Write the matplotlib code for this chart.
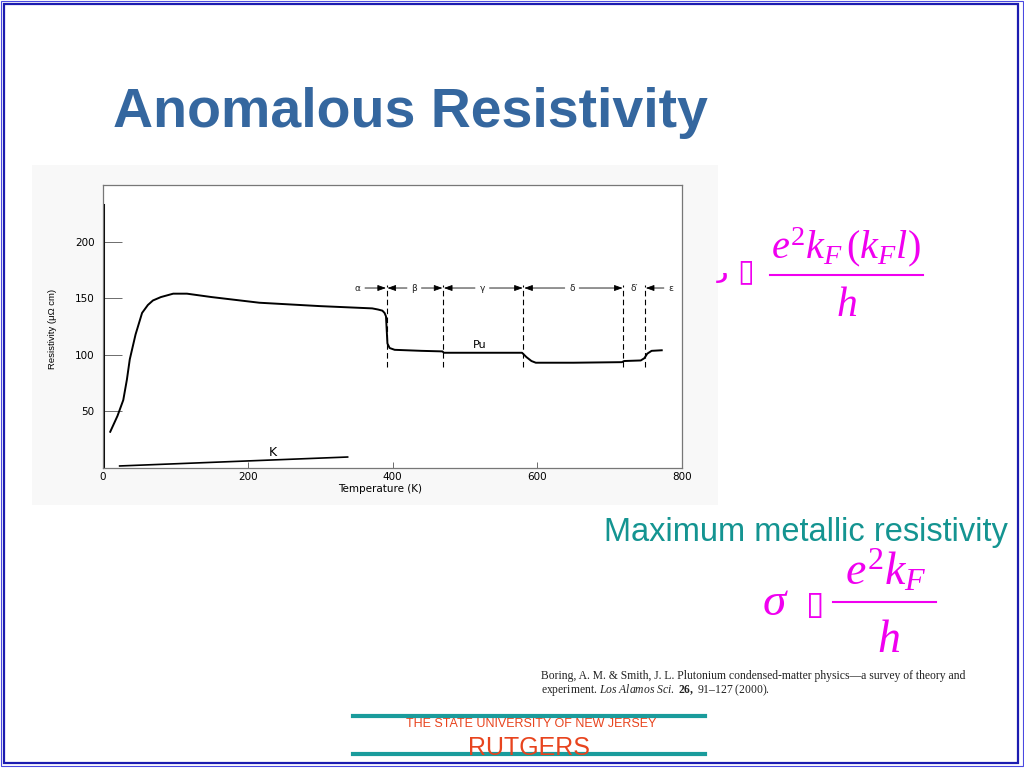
import matplotlib
matplotlib.use('Agg')
import matplotlib.pyplot as plt
from matplotlib.patches import Rectangle
from matplotlib.lines import Line2D

# Daten: Widerstand von Pu und K
pu_temp = [10, 20, 28, 33, 37, 45, 54, 62, 69, 80, 97, 116, 150, 216, 300, 372, 380, 386,
           389, 391, 392, 393, 396, 403, 440, 469, 471, 520, 579, 585, 592, 598, 650, 717,
           720, 743, 748, 752, 758, 772]
pu_rho = [32, 46, 60, 78, 96, 118, 137, 144, 148, 151, 154, 154, 151, 146, 143, 141, 140,
          139, 137, 134, 122, 110, 106, 104.4, 103.5, 103, 101.8, 101.8, 101.8, 98, 94.5,
          93, 93, 93.5, 94.5, 95, 97, 101, 103.5, 104]
k_temp = [23, 338]
k_rho = [1.8, 9.7]

# Phasengrenzen und Beschriftungen
phase_bounds = [392, 470, 581, 719, 749]
phase_names = ['\u03b1', '\u03b2', '\u03b3', '\u03b4', '\u03b4\u2032', '\u03b5']
phase_label_x = [352, 430, 524, 648, 734, 785]

x_ticks = [0, 200, 400, 600, 800]
y_ticks = [50, 100, 150, 200]

W, H = 1024, 768
SANS = 'Liberation Sans'

plt.rcParams['mathtext.fontset'] = 'custom'
plt.rcParams['mathtext.rm'] = 'Liberation Serif'
plt.rcParams['mathtext.it'] = 'Liberation Serif:italic'
plt.rcParams['mathtext.bf'] = 'Liberation Serif:bold'


def fx(x):
    return x / W


def fy(y):
    return 1 - y / H


fig = plt.figure(figsize=(W / 100, H / 100), dpi=100)
fig.patch.set_facecolor('white')

# Rahmen der Folie
fig.add_artist(Rectangle((fx(1), fy(766)), fx(1022), 765 / H, fill=False,
                         edgecolor='#4a4ae0', lw=0.8, transform=fig.transFigure))
fig.add_artist(Rectangle((fx(4), fy(763)), fx(1014), 759 / H, fill=False,
                         edgecolor='#1c1cb0', lw=1.6, transform=fig.transFigure))

# Titel
fig.text(fx(113), fy(127), 'Anomalous Resistivity', family=SANS, weight='bold',
         fontsize=40, color='#35679f', va='baseline', ha='left')

# Hintergrund des Diagrammbildes
fig.add_artist(Rectangle((fx(32), fy(505)), fx(686), 340 / H, facecolor='#f8f8f8',
                         edgecolor='none', transform=fig.transFigure, zorder=0))

ax = fig.add_axes([fx(103), fy(468), fx(682 - 103), (468 - 185) / H])
ax.set_facecolor('white')
ax.plot(pu_temp, pu_rho, color='black', lw=1.4)
ax.plot(k_temp, k_rho, color='black', lw=1.2)
ax.set_xlim(0, 800)
ax.set_ylim(0, 250)

for b in phase_bounds:
    ax.plot([b, b], [89, 162], color='black', lw=0.8, dashes=(5, 3))

# Phasenbeschriftungen mit Pfeilen
arr = dict(arrowstyle='-|>,head_length=0.5,head_width=0.18', lw=0.6, color='black',
           shrinkA=0, shrinkB=0)
yl = 159
edges = [0] + phase_bounds + [800]
for i, (name, lx) in enumerate(zip(phase_names, phase_label_x)):
    ax.text(lx, yl, name, fontsize=6.5, ha='center', va='center', color='#222222')
    left, right = edges[i], edges[i + 1]
    if name == '\u03b4\u2032':
        continue
    if i > 0:
        ax.annotate('', xy=(left + 1, yl), xytext=(lx - 10, yl), arrowprops=arr)
    if i < len(phase_names) - 1:
        ax.annotate('', xy=(right - 1, yl), xytext=(lx + 10, yl), arrowprops=arr)

ax.text(520, 109, 'Pu', fontsize=8, ha='center', va='center')
ax.text(234, 14, 'K', fontsize=9, ha='center', va='center')

ax.set_xticks(x_ticks)
ax.set_yticks(y_ticks)
ax.tick_params(axis='y', direction='in', length=14, width=0.6, color='#555555',
               labelsize=7.5, pad=6)
ax.tick_params(axis='x', direction='in', length=4, width=0.6, color='#555555',
               labelsize=7.5, pad=3)
for s in ['top', 'right', 'bottom', 'left']:
    ax.spines[s].set_color('#777777')
    ax.spines[s].set_linewidth(0.9)
ax.axvline(0, ymin=0, ymax=232 / 250, color='black', lw=2.2)

ax.set_xlabel('Temperature (K)', fontsize=7.5)
ax.xaxis.set_label_coords((380 - 103) / 579, -0.055)
ax.set_ylabel('Resistivity (\u03bc\u03a9 cm)', family=SANS, fontsize=6.8)
ax.yaxis.set_label_coords(-0.08, 0.49)

# Formeln
mag = '#f000f0'
fig.text(fx(722), fy(274), '\u0631', fontsize=14, weight='bold', color=mag,
         ha='center', va='center')
fig.text(fx(746), fy(272), '\u25af', fontsize=22, color=mag, ha='center', va='center')
fig.text(fx(846), fy(258), r'$\mathit{e^2k_F\,(k_Fl)}$', fontsize=29, color=mag,
         ha='center', va='baseline')
fig.add_artist(Line2D([fx(770), fx(923)], [fy(275), fy(275)], color=mag, lw=1.5))
fig.text(fx(847), fy(316), r'$\mathit{h}$', fontsize=30, color=mag,
         ha='center', va='baseline')

fig.text(fx(604), fy(541), 'Maximum metallic resistivity', family=SANS,
         fontsize=23.5, color='#149491', ha='left', va='baseline')

fig.text(fx(775), fy(615), r'$\sigma$', fontsize=34, color=mag,
         ha='center', va='baseline')
fig.text(fx(815), fy(605), '\u25af', fontsize=24, color=mag, ha='center', va='center')
fig.text(fx(886), fy(585), r'$\mathit{e^2k_F}$', fontsize=33, color=mag,
         ha='center', va='baseline')
fig.add_artist(Line2D([fx(833), fx(936)], [fy(602), fy(602)], color=mag, lw=1.5))
fig.text(fx(889), fy(652), r'$\mathit{h}$', fontsize=33, color=mag,
         ha='center', va='baseline')

# Quelle
fig.text(fx(541), fy(679), 'Boring, A. M. & Smith, J. L. Plutonium condensed-matter '
         'physics\u2014a survey of theory and', family='Liberation Serif', fontsize=8.4,
         color='#222222', va='baseline')
fig.text(fx(541), fy(693), r'experiment. $\mathit{Los\ Alamos\ Sci.}$ $\mathbf{26,}$ '
         '91\u2013127 (2000).', family='Liberation Serif', fontsize=8.4,
         color='#222222', va='baseline')

# Fusszeile
teal = '#1a9c9c'
fig.add_artist(Line2D([fx(353), fx(705)], [fy(716), fy(716)], color=teal, lw=3))
fig.add_artist(Line2D([fx(353), fx(705)], [fy(754), fy(754)], color=teal, lw=3))
fig.text(fx(531), fy(727), 'THE STATE UNIVERSITY OF NEW JERSEY', family=SANS,
         fontsize=9, color='#e8441e', ha='center', va='baseline')
fig.text(fx(529), fy(755), 'RUTGERS', family=SANS, fontsize=18,
         color='#e8441e', ha='center', va='baseline')

fig.savefig('out.png', dpi=100)
